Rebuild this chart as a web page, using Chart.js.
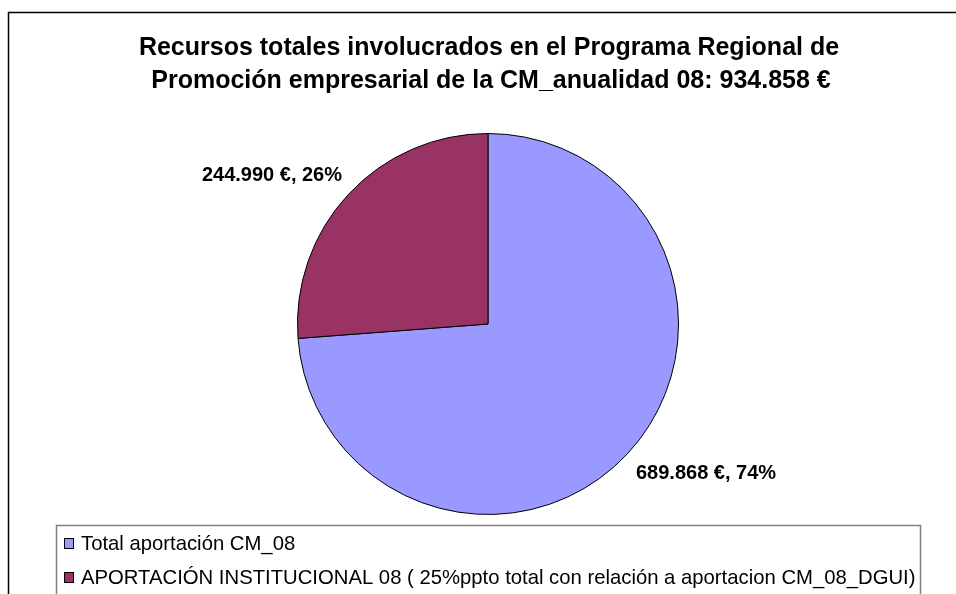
<!DOCTYPE html>
<html>
<head>
<meta charset="utf-8">
<script src="https://cdn.jsdelivr.net/npm/chart.js@4/dist/chart.umd.min.js"></script>
<style>
  html, body { margin: 0; padding: 0; background: #ffffff; }
  canvas { display: block; }
</style>
</head>
<body>
<canvas id="c" width="956" height="594"></canvas>
<script>
const titleLines = [
  "Recursos totales involucrados en el Programa Regional de",
  "Promoción empresarial de la CM_anualidad 08: 934.858 €"
];
const categories = [
  "Total aportación CM_08",
  "APORTACIÓN INSTITUCIONAL 08 ( 25%ppto total con relación a aportacion CM_08_DGUI)"
];
const values = [689868, 244990];
const valueLabels = ["689.868 €, 74%", "244.990 €, 26%"];
const colors = ["#9999FF", "#993366"];

const FONT = "'Liberation Sans', Arial, sans-serif";

const decor = {
  id: 'decor',
  beforeDraw(chart) {
    const ctx = chart.ctx;
    ctx.save();
    ctx.fillStyle = '#ffffff';
    ctx.fillRect(0, 0, chart.width, chart.height);
    // outer frame
    ctx.strokeStyle = '#000000';
    ctx.lineWidth = 1.5;
    ctx.strokeRect(8.5, 12.5, chart.width + 20, chart.height + 20);
    // title
    ctx.fillStyle = '#000000';
    ctx.font = "bold 25px " + FONT;
    ctx.textAlign = 'center';
    ctx.textBaseline = 'middle';
    ctx.fillText(titleLines[0], 489, 48);
    ctx.fillText(titleLines[1], 491, 81);
    ctx.restore();
  },
  afterDraw(chart) {
    const ctx = chart.ctx;
    ctx.save();
    // data labels
    const meta = chart.getDatasetMeta(0);
    ctx.font = "bold 20px " + FONT;
    ctx.fillStyle = '#000000';
    meta.data.forEach((arc, i) => {
      const p = arc.getProps(['x', 'y', 'startAngle', 'endAngle', 'outerRadius'], true);
      const mid = (p.startAngle + p.endAngle) / 2;
      const dx = Math.cos(mid), dy = Math.sin(mid);
      const ax = p.x + dx * (p.outerRadius + 14);
      const ay = p.y + dy * (p.outerRadius + 14);
      if (dx < 0) {
        ctx.textAlign = 'right';
        ctx.textBaseline = 'alphabetic';
        ctx.fillText(valueLabels[i], ax + 4, ay - 4);
      } else {
        ctx.textAlign = 'left';
        ctx.textBaseline = 'alphabetic';
        ctx.fillText(valueLabels[i], ax - 2, ay + 16);
      }
    });
    // legend box
    ctx.strokeStyle = '#808080';
    ctx.lineWidth = 1.5;
    ctx.strokeRect(56.5, 525.5, 864, 100);
    ctx.font = "20.3px " + FONT;
    ctx.textAlign = 'left';
    ctx.textBaseline = 'middle';
    categories.forEach((label, i) => {
      const y = 543 + i * 34;
      ctx.fillStyle = colors[i];
      ctx.fillRect(64, y - 5, 10, 10);
      ctx.strokeStyle = '#000000';
      ctx.lineWidth = 1;
      ctx.strokeRect(64.5, y - 4.5, 9, 10);
      ctx.fillStyle = '#000000';
      ctx.fillText(label, 81, y + 1);
    });
    ctx.restore();
  }
};

new Chart(document.getElementById('c'), {
  type: 'pie',
  data: {
    labels: categories,
    datasets: [{
      data: values,
      backgroundColor: colors,
      borderColor: '#000000',
      borderWidth: 1
    }]
  },
  options: {
    responsive: false,
    animation: false,
    layout: { padding: { top: 133, bottom: 79, left: 20, right: 0 } },
    plugins: {
      legend: { display: false },
      title: { display: false },
      tooltip: { enabled: false }
    }
  },
  plugins: [decor]
});
</script>
</body>
</html>
